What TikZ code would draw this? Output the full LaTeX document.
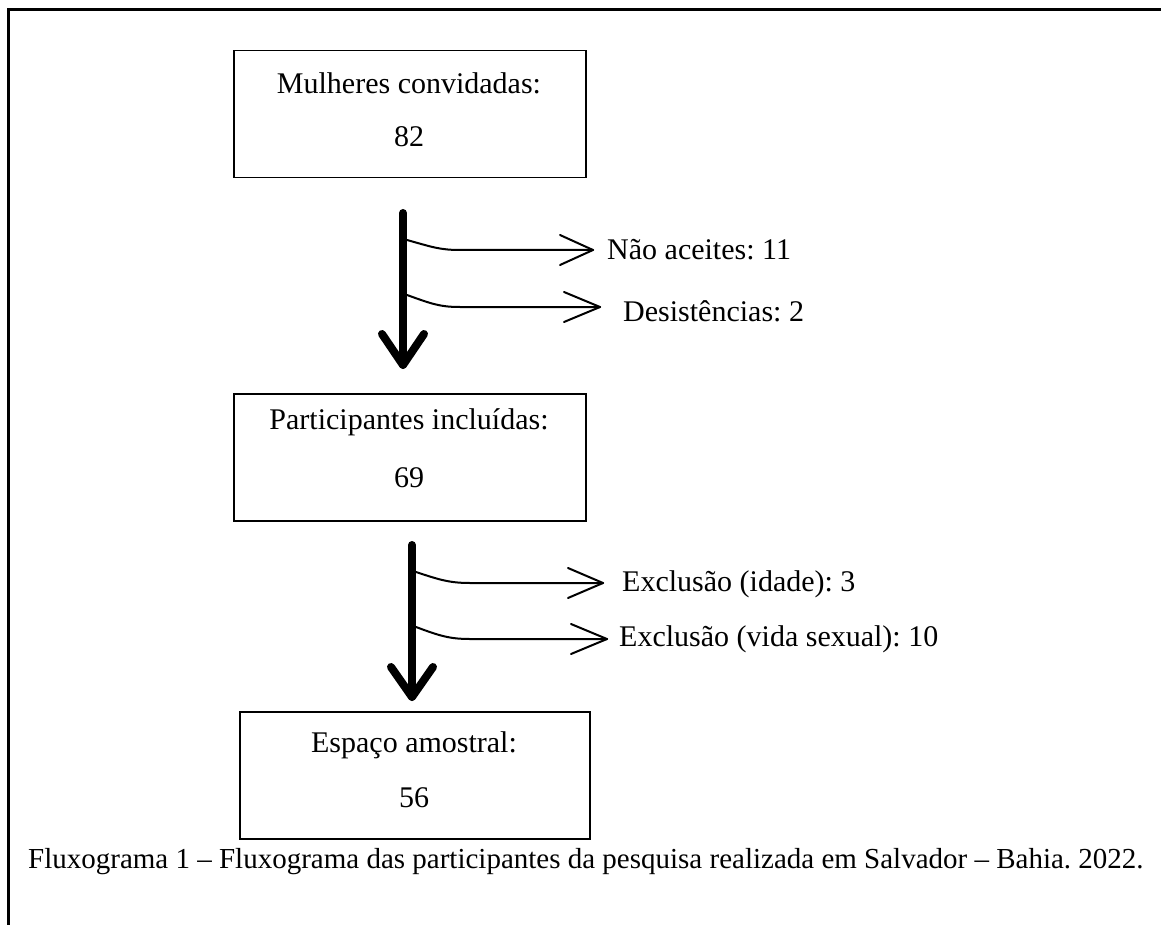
\documentclass[tikz,border=0pt]{standalone}
\usepackage{fontspec}
\setmainfont{Liberation Serif}
\frenchspacing
\begin{document}
\begin{tikzpicture}[x=1pt,y=-1pt,
  every node/.style={font=\fontsize{30}{36}\selectfont, inner sep=0pt},
  box/.style={draw, line width=1.5pt, minimum width=352pt, minimum height=127pt, anchor=north west},
  lbl/.style={anchor=west},
  thick arrow/.style={line width=8pt, line cap=round, line join=round},
  branch/.style={line width=2pt, line cap=round, line join=round}]
\useasboundingbox (0,0) rectangle (1161,925);
% frame
\draw[line width=3pt] (8,925) -- (8,10) -- (1161,10);
% boxes
\node[box] (b1) at (233,50) {};
\node (b1a) at (409,83) {Mulheres convidadas:};
\node (b1b) at (409,137) {82};
\node[box] (b2) at (233,393) {};
\node (b2a) at (409,422) {Participantes incluídas:};
\node (b2b) at (409,478) {69};
\node[box, minimum width=350pt] (b3) at (239,711) {};
\node (b3a) at (414,745) {Espaço amostral:};
\node (b3b) at (414,798) {56};
% labels
\node[lbl] (l1) at (607,250) {Não aceites: 11};
\node[lbl] (l2) at (623,311) {Desistências: 2};
\node[lbl] (l3) at (622,584) {Exclusão (idade): 3};
\node[lbl] (l4) at (619,639) {Exclusão (vida sexual): 10};
% caption
\node[anchor=west, font=\fontsize{29}{34}\selectfont] (cap) at (28,862) {Fluxograma 1 – Fluxograma das participantes da pesquisa realizada em Salvador – Bahia. 2022.};
% first arrow
\coordinate (a1s) at (403,213);
\coordinate (a1e) at (403,365);
\draw[thick arrow] (a1s) -- (a1e);
\draw[thick arrow] (382,334) -- (a1e) -- (424,334);
\coordinate (t1) at (593,250);
\draw[branch] (407,240) .. controls (432,247) and (440,250) .. (460,250) -- (t1);
\draw[branch] (560,235) -- (t1) -- (560,265);
\coordinate (t2) at (600,307);
\draw[branch] (407,295) .. controls (432,304) and (440,307) .. (460,307) -- (t2);
\draw[branch] (564,292) -- (t2) -- (564,322);
% second arrow
\coordinate (a2s) at (412,545);
\coordinate (a2e) at (412,697);
\draw[thick arrow] (a2s) -- (a2e);
\draw[thick arrow] (391,667) -- (a2e) -- (433,667);
\coordinate (t3) at (603,583);
\draw[branch] (416,572) .. controls (440,580) and (450,583) .. (470,583) -- (t3);
\draw[branch] (568,568) -- (t3) -- (568,598);
\coordinate (t4) at (607,639);
\draw[branch] (416,627) .. controls (440,636) and (450,639) .. (470,639) -- (t4);
\draw[branch] (571,624) -- (t4) -- (571,654);
\end{tikzpicture}
\end{document}
